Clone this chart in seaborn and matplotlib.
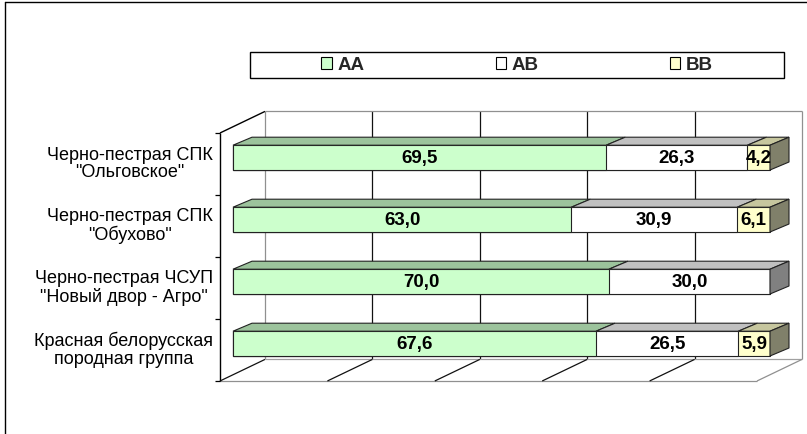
import numpy as np
import pandas as pd
import matplotlib
matplotlib.use("Agg")
import matplotlib.pyplot as plt
import seaborn as sns
from matplotlib.patches import Polygon, Rectangle, Patch
from matplotlib.lines import Line2D

# ---------------- data ----------------
categories = ['Черно-пестрая СПК\n"Ольговское"',
              'Черно-пестрая СПК\n"Обухово"',
              'Черно-пестрая ЧСУП\n"Новый двор - Агро"',
              'Красная белорусская\nпородная группа']
aa = [69.5, 63.0, 70.0, 67.6]
ab = [26.3, 30.9, 30.0, 26.5]
bb = [4.2, 6.1, 0.0, 5.9]
series_names = ['AA', 'AB', 'BB']
grid_ticks = [0, 20, 40, 60, 80, 100]

# ---------------- style ----------------
front_colors = ['#CCFFCC', '#FFFFFF', '#FFFFCC']
top_colors = ['#9CC39C', '#C0C0C0', '#C6C69E']
side_colors = ['#7A9A7A', '#808080', '#80806A']
edge = '#222222'

W, H = 807, 434
sns.set_theme(style='white')
plt.rcParams['font.family'] = ['Liberation Sans', 'DejaVu Sans']

fig = plt.figure(figsize=(W / 100, H / 100), dpi=100)
ax = fig.add_axes([0, 0, 1, 1])

PX = 5.37      # pixels per percent
X0 = 233       # pixel of 0 %
ROW = 62       # pixels per category
Y0 = 157.6     # pixel of first category centre
BAR_H = 0.40

# stacked bars via cumulative totals drawn back to front
cum1 = np.array(aa)
cum2 = cum1 + np.array(ab)
cum3 = cum2 + np.array(bb)
df = pd.DataFrame({'cat': categories, 'c1': cum1, 'c2': cum2, 'c3': cum3})
for col, fc in zip(['c3', 'c2', 'c1'], front_colors[::-1]):
    sns.barplot(data=df, x=col, y='cat', orient='h', color=fc, saturation=1,
                width=BAR_H, edgecolor=edge, linewidth=0.8, ax=ax, zorder=3)

ax.set_xlim(-X0 / PX, (W - X0) / PX)
ax.set_ylim((H - Y0) / ROW, -Y0 / ROW)
ax.axis('off')

# depth offsets (data units)
dX = 19 / PX
dY = 8 / ROW

def P(v, c, depth):
    """point on the chart box: depth 0 = front plane, 1 = back wall"""
    x = v + (-2.42 + depth * (5.96 + 2.42))
    y = c + (0.103 + depth * (-0.245 - 0.103))
    return x, y

def line(p, q, color, lw=0.9, z=1):
    ax.plot([p[0], q[0]], [p[1], q[1]], color=color, lw=lw, zorder=z,
            solid_capstyle='butt')

# back wall grid
for g in grid_ticks:
    col = '#909090' if g in (0, 100) else '#111111'
    line(P(g, -0.5, 1), P(g, 3.5, 1), col)
line(P(0, -0.5, 1), P(100, -0.5, 1), '#909090')
# floor
line(P(0, 3.5, 1), P(100, 3.5, 1), '#A0A0A0')
line(P(0, 3.5, 0), P(100, 3.5, 0), '#909090')
for g in grid_ticks:
    col = '#909090' if g == 100 else '#111111'
    line(P(g, 3.5, 0), P(g, 3.5, 1), col)
# left wall
line(P(0, -0.5, 0), P(0, 3.5, 0), '#000000', lw=1.0)
line(P(0, -0.5, 0), P(0, -0.5, 1), '#000000', lw=1.0)
for c in [-0.5, 0.5, 1.5, 2.5, 3.5]:
    x, y = P(0, c, 0)
    line((x - 5 / PX, y), (x, y), '#000000', lw=0.9)

# 3D faces of bars
vals = [aa, ab, bb]
for i in range(len(categories)):
    yt = i - BAR_H / 2
    yb = i + BAR_H / 2
    left = 0.0
    last = None
    for s in range(3):
        v = vals[s][i]
        if v <= 0:
            continue
        x0, x1 = left, left + v
        ax.add_patch(Polygon([(x0, yt), (x1, yt), (x1 + dX, yt - dY), (x0 + dX, yt - dY)],
                             closed=True, facecolor=top_colors[s], edgecolor=edge,
                             lw=0.8, zorder=4))
        left = x1
        last = s
    ax.add_patch(Polygon([(left, yt), (left + dX, yt - dY), (left + dX, yb - dY), (left, yb)],
                         closed=True, facecolor=side_colors[last], edgecolor=edge,
                         lw=0.8, zorder=4))
    # value labels
    left = 0.0
    for s in range(3):
        v = vals[s][i]
        if v > 0:
            ax.text(left + v / 2, i + 0.02, f'{v:.1f}'.replace('.', ','), ha='center',
                    va='center', fontsize=13.5, fontweight='bold', color='black', zorder=6)
        left += v
    # category labels
    ax.text((213 - X0) / PX, i + 0.103, categories[i], ha='right', va='center',
            multialignment='center', fontsize=13, color='black', linespacing=1.05)

# legend
handles = [Patch(facecolor=c, edgecolor='black', linewidth=0.8) for c in front_colors]
fig.legend(handles, series_names, ncol=3, loc='center',
           bbox_to_anchor=(517 / W, 1 - 65 / H), frameon=False,
           prop={'size': 13.5, 'weight': 'bold'}, handlelength=0.55, handleheight=0.55,
           handletextpad=0.3, columnspacing=7.0)
fig.add_artist(Rectangle((250 / W, 1 - 78 / H), 534 / W, 26 / H, transform=fig.transFigure,
                         fill=False, edgecolor='black', lw=1.0))

# outer frame
fig.add_artist(Line2D([5 / W, 5 / W], [0, 1 - 2 / H], transform=fig.transFigure,
                      color='black', lw=1.0))
fig.add_artist(Line2D([5 / W, 1], [1 - 2 / H, 1 - 2 / H], transform=fig.transFigure,
                      color='black', lw=1.0))

fig.savefig('out.png', dpi=100)
